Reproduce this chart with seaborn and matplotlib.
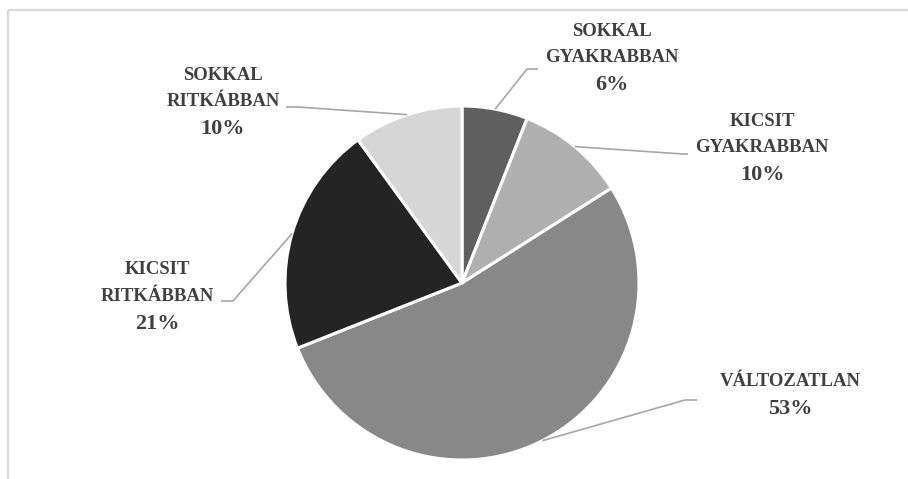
import numpy as np
import matplotlib
matplotlib.use("Agg")
import matplotlib.pyplot as plt
import seaborn as sns

# Survey answers, clockwise from 12 o'clock
categories = ["SOKKAL\nGYAKRABBAN", "KICSIT\nGYAKRABBAN", "VÁLTOZATLAN",
              "KICSIT\nRITKÁBBAN", "SOKKAL\nRITKÁBBAN"]
shares = [6, 10, 53, 21, 10]
slice_colors = ["#5f5f5f", "#b0b0b0", "#888888", "#242424", "#d6d6d6"]

# Label anchor (centre x, first-line y) and leader elbow, in pixel units
label_pos = [(612, 31), (762, 121), (790, 382), (157, 270), (223, 75)]
elbows = [((527, 69), (538, 69)),
          ((683, 154), (688, 154)),
          ((685, 400), (697, 400)),
          ((233, 301), (221, 301)),
          ((298, 107), (286, 107))]

W, H = 908, 479
sns.set_theme(style="white")
plt.rcParams["font.family"] = ["Liberation Serif", "DejaVu Serif"]

fig = plt.figure(figsize=(W / 100, H / 100), dpi=100)
ax = fig.add_axes([0, 0, 1, 1])


def py(y):
    """Convert a top-down pixel row into the axes' bottom-up y."""
    return H - y


cx, cy, r = 462, py(283), 177
wedges, _ = ax.pie(shares, colors=slice_colors, startangle=90, counterclock=False,
                   center=(cx, cy), radius=r,
                   wedgeprops=dict(edgecolor="white", linewidth=2.2))

ax.set_xlim(0, W)
ax.set_ylim(0, H)
ax.set_aspect("equal")
ax.axis("off")

text_color = "#404040"
line_color = "#a6a6a6"
step = 26.5

for w, name, val, (lx, ly), (e1, e2) in zip(wedges, categories, shares, label_pos, elbows):
    mid = np.deg2rad((w.theta1 + w.theta2) / 2)
    sx, sy = cx + r * np.cos(mid), cy + r * np.sin(mid)
    ax.plot([sx, e1[0], e2[0]], [sy, py(e1[1]), py(e2[1])],
            color=line_color, lw=1.2, solid_capstyle="butt", zorder=1)
    lines = name.split("\n")
    for i, ln in enumerate(lines):
        ax.text(lx, py(ly + i * step), ln, ha="center", va="center",
                fontsize=13.5, fontweight="bold", color=text_color)
    ax.text(lx, py(ly + len(lines) * step + 1), f"{val}%", ha="center", va="center",
            fontsize=16, fontweight="bold", color=text_color)

# Chart-area border (top and left edges)
frame = "#d9d9d9"
ax.plot([8, W], [py(10), py(10)], color=frame, lw=1.6, solid_capstyle="butt")
ax.plot([8, 8], [py(10), 0], color=frame, lw=1.6, solid_capstyle="butt")

fig.savefig("out.png", dpi=100)
